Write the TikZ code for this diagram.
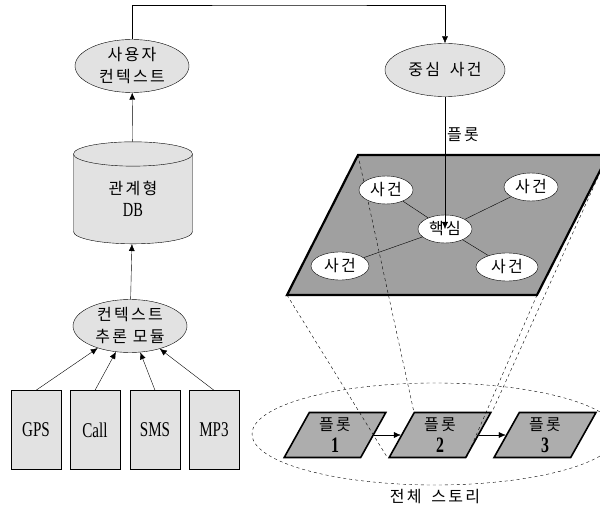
\documentclass[tikz,border=0pt]{standalone}
\usepackage{fontspec}
\setmainfont{Liberation Serif}
\newfontfamily\kr[LetterSpace=14]{Noto Sans CJK KR}
\newfontfamily\narrow[FakeStretch=0.72]{Liberation Serif}
\newcommand\digit[1]{{\narrow\bfseries\fontsize{22}{22}\selectfont #1}}
\usetikzlibrary{shapes.geometric,arrows.meta}
\definecolor{litegray}{HTML}{E2E2E2}
\definecolor{planegray}{HTML}{A0A0A0}
\definecolor{plotgray}{HTML}{ADADAD}
\begin{document}
\begin{tikzpicture}[x=1pt,y=-1pt,>={Latex[length=7pt,width=6pt]},
  krtext/.style={font=\kr\fontsize{16}{22}\selectfont,align=center,inner sep=0pt},
  ctxnode/.style={krtext,ellipse,draw,fill=litegray,minimum width=114pt,minimum height=53pt},
  sensor/.style={draw,fill=litegray,minimum width=50pt,minimum height=79pt,inner sep=0pt,font=\narrow\fontsize{21}{22}\selectfont},
  event/.style={krtext,ellipse,draw,fill=white,minimum width=54pt,minimum height=28pt},
  plotbox/.style={krtext,trapezium,trapezium left angle=66,trapezium right angle=114,trapezium stretches=true,draw,line width=1.6pt,fill=plotgray,minimum width=102pt,minimum height=45pt},
  proj/.style={dashed,thin}
]
\useasboundingbox (0,0) rectangle (600,505);
\clip (0,0) rectangle (600,505);
% left column
\node[ctxnode] (user) at (132,66) {사용자\\컨텍스트};
\node[cylinder,shape border rotate=90,aspect=0.5,draw,fill=litegray,krtext,minimum width=119pt,minimum height=102pt] (db) at (133,199) {관계형\\{\narrow\fontsize{20}{22}\selectfont DB}};
\node[ctxnode] (infer) at (130,326) {컨텍스트\\추론 모듈};
\node[sensor] (gps) at (36,430) {GPS};
\node[sensor] (call) at (95,430) {Call};
\node[sensor] (sms) at (155,430) {SMS};
\node[sensor] (mp3) at (214,430) {MP3};
\draw[->] (gps.north) -- (infer);
\draw[->] (call.north) -- (infer);
\draw[->] (sms.north) -- (infer);
\draw[->] (mp3.north) -- (infer);
\draw[->] (infer) -- (db);
\draw[->] (db) -- (user);
% right column
\node[ctxnode,minimum width=120pt] (center) at (445,70) {중심\hspace{4pt} 사건};
\coordinate (top) at (290,5);
\draw[->] (user.north) |- (top) -| (center.north);
\node[ellipse,draw,dashed,minimum width=366pt,minimum height=102pt] (story) at (435,434) {};
\node[krtext] (storylbl) at (435,497) {전체\hspace{4pt} 스토리};
% plane of events
\coordinate (tl) at (358,155);
\coordinate (tr) at (608,155);
\coordinate (br) at (537,295);
\coordinate (bl) at (287,295);
\filldraw[fill=planegray,line width=2.2pt,line join=miter] (tl) -- (tr) -- (br) -- (bl) -- cycle;
\node[plotbox] (p1) at (335,435) {플롯\\\digit{1}};
\node[plotbox] (p2) at (440,435) {플롯\\\digit{2}};
\node[plotbox] (p3) at (545,435) {플롯\\\digit{3}};
\draw[->] (p1.east) -- (p2.west);
\draw[->] (p2.east) -- (p3.west);
\draw[proj] (tl) -- (p2.top left corner);
\draw[proj] (bl) -- (p2.bottom left corner);
\draw[proj] (tr) -- (p2.top right corner);
\draw[proj] (br) -- (p2.bottom right corner);
\node[event] (ev1) at (386,190) {사건};
\node[event] (ev2) at (531,187) {사건};
\node[event] (core) at (445,229) {핵심};
\node[event,minimum width=58pt] (ev3) at (340,266) {사건};
\node[event,minimum width=62pt] (ev4) at (507,267) {사건};
\draw (core) -- (ev1);
\draw (core) -- (ev2);
\draw (core) -- (ev3);
\draw (core) -- (ev4);
\draw[->] (center.south) -- node[krtext,right=2pt,pos=0.29] {플롯} (core.center);
\end{tikzpicture}
\end{document}
